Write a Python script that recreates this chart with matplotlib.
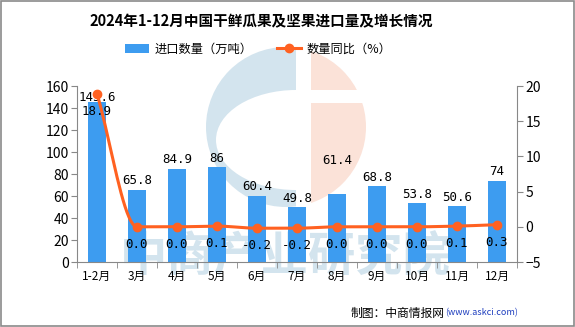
import numpy as np
import matplotlib
matplotlib.use("Agg")
import matplotlib.pyplot as plt
from matplotlib.patches import Circle, Ellipse, Rectangle, Patch
from matplotlib.lines import Line2D

plt.rcParams['font.family'] = ['Noto Sans CJK SC', 'DejaVu Sans']

months = ["1-2月", "3月", "4月", "5月", "6月", "7月", "8月", "9月", "10月", "11月", "12月"]
volume = [145.6, 65.8, 84.9, 86, 60.4, 49.8, 61.4, 68.8, 53.8, 50.6, 74]
volume_labels = ["145.6", "65.8", "84.9", "86", "60.4", "49.8", "61.4", "68.8", "53.8", "50.6", "74"]
growth = [18.9, 0.0, 0.0, 0.1, -0.2, -0.2, 0.0, 0.0, 0.0, 0.1, 0.3]
growth_labels = ["18.9", "0.0", "0.0", "0.1", "-0.2", "-0.2", "0.0", "0.0", "0.0", "0.1", "0.3"]

BAR_COLOR = "#3d9cf0"
LINE_COLOR = "#ff6121"
AXIS_GRAY = "#888888"
WM_BLUE = "#d3e4ee"
WM_PINK = "#fbe2d8"


def smooth(xs, ys, n=20):
    # monotone cubic (pchip-like) curve through the points, display only
    xs = np.asarray(xs, float)
    ys = np.asarray(ys, float)
    d = np.diff(ys) / np.diff(xs)
    m = np.zeros_like(ys)
    for i in range(1, len(ys) - 1):
        if d[i - 1] * d[i] > 0:
            m[i] = 2 / (1 / d[i - 1] + 1 / d[i])
    m[0], m[-1] = d[0], d[-1]
    out_x, out_y = [], []
    t = np.linspace(0, 1, n, endpoint=False)
    h00 = 2 * t ** 3 - 3 * t ** 2 + 1
    h10 = t ** 3 - 2 * t ** 2 + t
    h01 = -2 * t ** 3 + 3 * t ** 2
    h11 = t ** 3 - t ** 2
    for i in range(len(xs) - 1):
        h = xs[i + 1] - xs[i]
        out_x.extend(xs[i] + t * h)
        out_y.extend(h00 * ys[i] + h10 * h * m[i] + h01 * ys[i + 1] + h11 * h * m[i + 1])
    out_x.append(xs[-1])
    out_y.append(ys[-1])
    return np.array(out_x), np.array(out_y)


fig = plt.figure(figsize=(5.75, 3.27), dpi=100)
fig.patch.set_facecolor("white")

# border
fig.add_artist(Rectangle((0.001, 0.002), 0.997, 0.995, transform=fig.transFigure,
                         fill=False, edgecolor="#8a8a8a", linewidth=1.2))

# watermark logo, in pixel coordinates
wm = fig.add_axes([0, 0, 1, 1], zorder=-1)
wm.set_xlim(0, 575)
wm.set_ylim(327, 0)
wm.axis("off")
cx, cy, r = 286, 127, 80
blue = Circle((cx, cy), r, facecolor=WM_BLUE, edgecolor="none")
wm.add_patch(blue)
blue.set_clip_path(Rectangle((cx - r, cy - r), 296 - (cx - r), 2 * r, transform=wm.transData))
hole = Ellipse((296, 140), 160, 100, facecolor="white", edgecolor="none")
wm.add_patch(hole)
hole.set_clip_path(Rectangle((cx - r, cy - r), 296 - (cx - r), 2 * r, transform=wm.transData))
pink = Circle((cx, cy), r, facecolor=WM_PINK, edgecolor="none")
wm.add_patch(pink)
pink.set_clip_path(Rectangle((311, cy - r), 80, 2 * r, transform=wm.transData))
gap = Rectangle((311, 90), 60, 13, facecolor="white", edgecolor="none")
wm.add_patch(gap)
wm.text(285, 256, "中商产业研究院", fontsize=34, color=WM_BLUE, ha="center", va="center",
        fontweight="bold")

ax = fig.add_axes([77 / 575, 1 - 262 / 327, 440 / 575, 176 / 327])
ax.patch.set_alpha(0)
x = np.arange(len(months))
ax.bar(x, volume, width=0.44, color=BAR_COLOR, zorder=2)
ax.set_xlim(-0.5, len(months) - 0.5)
ax.set_ylim(0, 160)
ax.set_yticks(range(0, 161, 20))
ax.set_xticks(x)
ax.set_xticklabels(months, fontsize=8.5)
ax.set_xticks(np.arange(-0.5, len(months), 1), minor=True)
ax.tick_params(axis="x", which="major", length=0, pad=6)
ax.tick_params(axis="x", which="minor", length=4, color=AXIS_GRAY)
ax.tick_params(axis="y", length=4, color=AXIS_GRAY, labelsize=10, pad=2)
for s in ("top", "right"):
    ax.spines[s].set_visible(False)
for s in ("left", "bottom"):
    ax.spines[s].set_color(AXIS_GRAY)

for xi, v, lab in zip(x, volume, volume_labels):
    y = v + 2
    if lab == "61.4":
        y = v + 25
    if lab == "145.6":
        y = v - 2
    ax.text(xi, y, lab, ha="center", va="bottom", fontsize=9, family="DejaVu Sans Mono", zorder=4)

ax2 = ax.twinx()
ax2.set_ylim(-5, 20)
ax2.set_yticks(range(-5, 21, 5))
ax2.tick_params(axis="y", length=4, color=AXIS_GRAY, labelsize=10, pad=2)
for s in ("top", "left", "bottom"):
    ax2.spines[s].set_visible(False)
ax2.spines["right"].set_color(AXIS_GRAY)

sx, sy = smooth(x, growth)
ax2.plot(sx, sy, color=LINE_COLOR, linewidth=2.2, zorder=3)
ax2.plot(x, growth, "o", color=LINE_COLOR, markersize=6, zorder=3)
for xi, g, lab in zip(x, growth, growth_labels):
    ax2.text(xi, g - 1.6, lab, ha="center", va="top", fontsize=9, family="DejaVu Sans Mono", zorder=4)

# legend
handles = [Patch(facecolor=BAR_COLOR, label="进口数量（万吨）"),
           Line2D([0], [0], color=LINE_COLOR, linewidth=2.2, marker="o", markersize=6,
                  label="数量同比（%）")]
fig.legend(handles=handles, loc="center", bbox_to_anchor=(258 / 575, 1 - 49 / 327), ncol=2,
           frameon=False, fontsize=8.8, handlelength=2.0, columnspacing=2.0, handletextpad=0.4)

fig.text(261 / 575, 1 - 21 / 327, "2024年1-12月中国干鲜瓜果及坚果进口量及增长情况", ha="center",
         va="center", fontsize=10.5, fontweight="bold")
fig.text(445 / 575, 1 - 313 / 327, "制图：中商情报网", ha="right", va="center", fontsize=8.5)
fig.text(445 / 575, 1 - 313 / 327, "(www.askci.com)", ha="left", va="center", fontsize=6.5,
         color="#1f3fbf")

fig.savefig("out.png", dpi=100)
